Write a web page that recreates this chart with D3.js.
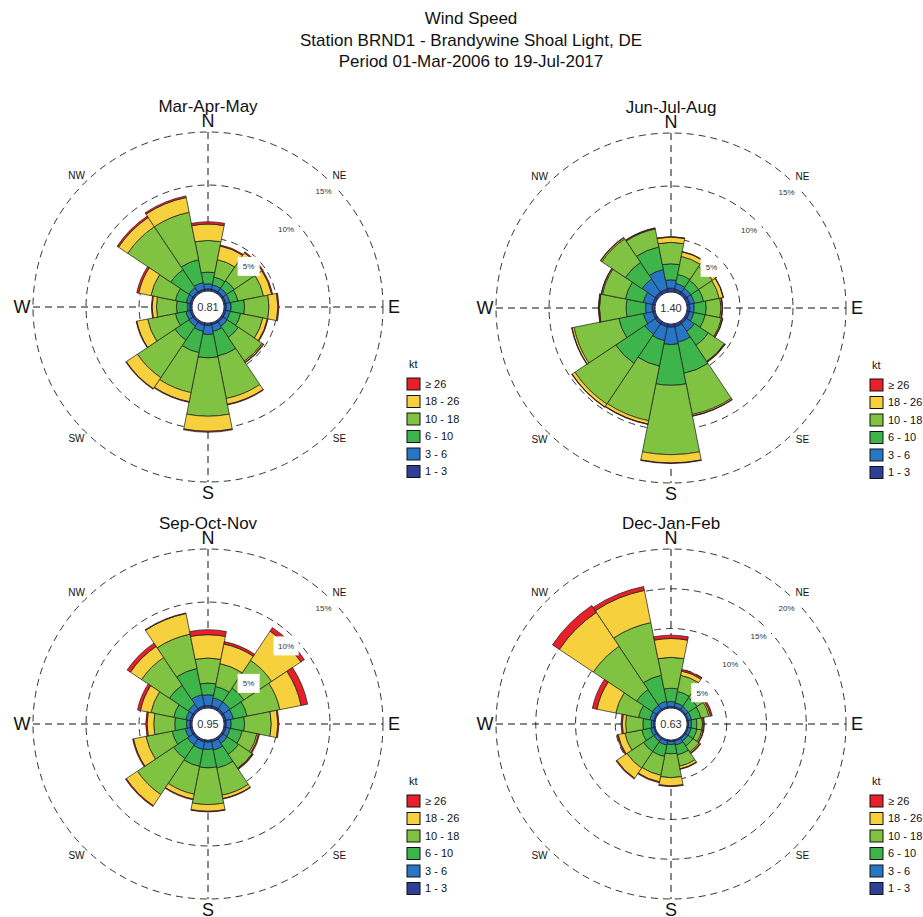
<!DOCTYPE html>
<html>
<head>
<meta charset="utf-8">
<script src="https://cdn.jsdelivr.net/npm/d3@7/dist/d3.min.js"></script>
<style>
  body { margin: 0; background: #fff; }
  text { font-family: "Liberation Sans", Arial, Helvetica, sans-serif; }
</style>
</head>
<body>
<svg id="chart" width="923" height="917"></svg>
<script>
// Wind direction sectors, clockwise from north
const directions = ["N","NNE","NE","ENE","E","ESE","SE","SSE","S","SSW","SW","WSW","W","WNW","NW","NNW"];
// Speed classes (kt), innermost first
const speedBins = ["1 - 3","3 - 6","6 - 10","10 - 18","18 - 26","\u2265 26"];
const binColors = ["#2e3f96","#2776c6","#3db54a","#80c241","#f7d13d","#e8202a"];

const seasons = ["Mar-Apr-May","Jun-Jul-Aug","Sep-Oct-Nov","Dec-Jan-Feb"];
const calmPct = ["0.81","1.40","0.95","0.63"];
const gridMax = [15, 15, 15, 20];   // outermost labelled ring (%)
const gridStep = 5;

// Frequency (%) per direction; columns follow speedBins
const marAprMay = [
  [0.22,0.47,1.10,2.99,1.54,0.22],
  [0.22,0.41,0.75,1.67,1.32,0.10],
  [0.22,0.41,0.85,2.36,0.82,0.10],
  [0.22,0.38,0.78,2.46,0.78,0.10],
  [0.22,0.47,1.26,2.30,0.84,0.10],
  [0.22,0.41,1.01,2.13,0.44,0.07],
  [0.22,0.47,1.26,2.70,0.13,0.06],
  [0.22,0.63,2.36,4.09,0.56,0.06],
  [0.25,0.85,2.20,5.50,1.42,0.09],
  [0.25,0.60,2.04,3.84,0.88,0.06],
  [0.22,0.47,1.57,4.25,1.26,0.06],
  [0.22,0.41,1.01,2.67,1.04,0.06],
  [0.22,0.22,1.04,1.88,0.41,0.07],
  [0.22,0.38,1.04,2.35,1.17,0.19],
  [0.22,0.47,2.05,4.87,1.04,0.16],
  [0.22,0.63,2.20,4.56,1.42,0.15]
];
const junJulAug = [
  [0.38,0.78,1.51,2.02,0.50,0.04],
  [0.31,0.54,0.88,1.73,0.44,0.04],
  [0.31,0.44,0.89,1.57,0.41,0.04],
  [0.31,0.44,0.89,1.50,0.38,0.04],
  [0.28,0.41,1.13,1.39,0.12,0.05],
  [0.28,0.41,1.10,1.57,0.10,0.04],
  [0.28,0.88,1.58,1.82,0.06,0.05],
  [0.31,1.48,2.99,3.96,0.13,0.04],
  [0.31,1.64,3.84,6.54,0.78,0.05],
  [0.31,1.33,2.45,5.25,0.31,0.05],
  [0.31,1.17,3.30,4.62,0.32,0.04],
  [0.28,0.88,2.36,4.31,0.19,0.04],
  [0.28,0.63,1.83,2.51,0.06,0.05],
  [0.28,0.88,1.73,2.20,0.10,0.04],
  [0.31,1.48,1.89,2.67,0.13,0.04],
  [0.31,1.89,2.17,1.73,0.06,0.05]
];
const sepOctNov = [
  [0.25,1.01,1.10,2.36,2.20,0.47],
  [0.25,0.76,1.10,2.20,1.88,0.23],
  [0.25,0.76,1.57,3.14,3.31,0.40],
  [0.25,0.69,1.32,3.15,2.04,0.63],
  [0.22,0.47,1.26,2.52,0.62,0.10],
  [0.22,0.41,1.16,1.42,0.15,0.10],
  [0.22,0.47,1.26,1.57,0.06,0.07],
  [0.22,0.79,1.73,2.61,0.31,0.06],
  [0.22,0.69,1.73,3.46,0.63,0.06],
  [0.22,0.72,1.64,2.67,0.47,0.07],
  [0.22,0.63,1.57,4.09,1.26,0.09],
  [0.22,0.47,1.26,2.52,1.19,0.09],
  [0.22,0.31,1.11,1.98,0.63,0.12],
  [0.22,0.41,1.16,2.20,1.01,0.28],
  [0.22,0.53,2.14,3.15,1.26,0.37],
  [0.25,1.07,2.52,3.30,1.98,0.06]
];
const decJanFeb = [
  [0.21,0.62,1.67,3.88,2.37,0.42],
  [0.21,0.50,1.46,2.08,0.54,0.21],
  [0.21,0.42,1.33,1.37,0.13,0.08],
  [0.21,0.42,1.20,1.05,0.20,0.21],
  [0.21,0.37,0.67,0.71,0.12,0.13],
  [0.21,0.37,0.75,0.63,0.17,0.08],
  [0.21,0.37,0.75,0.92,0.16,0.09],
  [0.21,0.50,1.25,1.46,0.33,0.08],
  [0.21,0.37,1.17,3.00,1.04,0.09],
  [0.21,0.50,1.46,2.41,0.84,0.12],
  [0.21,0.42,1.54,2.50,1.54,0.12],
  [0.21,0.42,1.12,2.17,0.87,0.13],
  [0.21,0.29,1.04,2.17,0.42,0.16],
  [0.21,0.50,1.46,2.91,2.42,0.58],
  [0.21,0.62,2.38,6.54,5.13,1.04],
  [0.21,0.71,3.33,6.75,4.13,0.50]
];
const seasonData = [marAprMay, junJulAug, sepOctNov, decJanFeb];

const titleLines = [
  "Wind Speed",
  "Station BRND1 - Brandywine Shoal Light, DE",
  "Period 01-Mar-2006 to 19-Jul-2017"
];
const titleBaselines = [24, 46, 67];

const svg = d3.select("#chart");
const R = 175;                      // outer ring radius in px
const centers = [[208, 307], [671, 308], [208, 724], [671, 724]];
const sector = 360 / directions.length;
const rad = deg => deg * Math.PI / 180;

// Figure title
svg.append("g").selectAll("text").data(titleLines).join("text")
  .attr("x", 471)
  .attr("y", (d, i) => titleBaselines[i])
  .attr("text-anchor", "middle")
  .attr("font-size", 17)
  .attr("fill", "#111")
  .text(d => d);

seasons.forEach((season, si) => {
  const [cx, cy] = centers[si];
  const maxPct = gridMax[si];
  const offset = maxPct * 0.1;       // empty hole in the centre, in % units
  const r = d3.scaleLinear().domain([0, maxPct + offset]).range([0, R]);
  const g = svg.append("g").attr("transform", `translate(${cx},${cy})`);

  // panel title
  g.append("text")
    .attr("x", 0).attr("y", -195)
    .attr("text-anchor", "middle")
    .attr("font-size", 17)
    .attr("fill", "#111")
    .text(season);

  // dashed rings
  const ringVals = d3.range(gridStep, maxPct + 0.01, gridStep);
  g.append("g").selectAll("circle").data(ringVals).join("circle")
    .attr("r", d => r(d + offset))
    .attr("fill", "none")
    .attr("stroke", "#333")
    .attr("stroke-width", 1)
    .attr("stroke-dasharray", "7,5");

  // dashed compass axes
  g.append("g").selectAll("line").data([[-R, 0, R, 0], [0, -R, 0, R]]).join("line")
    .attr("x1", d => d[0]).attr("y1", d => d[1])
    .attr("x2", d => d[2]).attr("y2", d => d[3])
    .attr("stroke", "#111")
    .attr("stroke-width", 1)
    .attr("stroke-dasharray", "7,5");

  // stacked bars
  const stack = d3.stack()
    .keys(d3.range(speedBins.length))
    .value((row, k) => row[k]);
  const layers = stack(seasonData[si]);
  const arc = d3.arc();
  layers.forEach((layer, k) => {
    g.append("g").selectAll("path").data(layer).join("path")
      .attr("d", (d, i) => arc({
        innerRadius: r(d[0] + offset),
        outerRadius: r(d[1] + offset),
        startAngle: rad(i * sector - sector / 2),
        endAngle: rad(i * sector + sector / 2)
      }))
      .attr("fill", binColors[k])
      .attr("stroke", "#1a1a1a")
      .attr("stroke-width", 0.7);
  });

  // ring labels on the NE diagonal, on white boxes
  const lab = g.append("g").selectAll("g").data(ringVals).join("g")
    .attr("transform", d => {
      const rr = r(d + offset) - 11.5;
      return `translate(${rr * Math.SQRT1_2},${-rr * Math.SQRT1_2})`;
    });
  lab.append("rect")
    .attr("x", d => (d >= 10 ? -12.5 : -11))
    .attr("y", -9.5)
    .attr("width", d => (d >= 10 ? 25 : 22))
    .attr("height", 19)
    .attr("fill", "#fff");
  lab.append("text")
    .attr("text-anchor", "middle")
    .attr("dy", "0.35em")
    .attr("font-size", 8)
    .attr("fill", "#333")
    .text(d => d + "%");

  // compass labels
  const compass = [
    { t: "N", a: 0, s: 18 }, { t: "E", a: 90, s: 18 },
    { t: "S", a: 180, s: 18 }, { t: "W", a: 270, s: 18 },
    { t: "NE", a: 45, s: 10 }, { t: "SE", a: 135, s: 10 },
    { t: "SW", a: 225, s: 10 }, { t: "NW", a: 315, s: 10 }
  ];
  g.append("g").selectAll("text").data(compass).join("text")
    .attr("x", d => 186 * Math.sin(rad(d.a)))
    .attr("y", d => -186 * Math.cos(rad(d.a)))
    .attr("text-anchor", "middle")
    .attr("dy", "0.36em")
    .attr("font-size", d => d.s)
    .attr("fill", "#111")
    .text(d => d.t);

  // calm percentage in the centre
  g.append("circle").attr("r", r(offset) - 0.6).attr("fill", "#fff");
  g.append("text")
    .attr("text-anchor", "middle")
    .attr("dy", "0.36em")
    .attr("font-size", 11)
    .attr("fill", "#333")
    .text(calmPct[si]);

  // legend
  const lg = svg.append("g").attr("transform", `translate(${cx + 199},${cy + 57})`);
  lg.append("text")
    .attr("x", 2).attr("y", 0)
    .attr("dy", "0.35em")
    .attr("font-size", 11)
    .attr("fill", "#111")
    .text("kt");
  const items = speedBins.map((b, k) => ({ label: b, color: binColors[k] })).reverse();
  const it = lg.selectAll("g.item").data(items).join("g")
    .attr("class", "item")
    .attr("transform", (d, i) => `translate(0,${14 + i * 17.5})`);
  it.append("rect")
    .attr("width", 13).attr("height", 12)
    .attr("fill", d => d.color)
    .attr("stroke", "#111")
    .attr("stroke-width", 1);
  it.append("text")
    .attr("x", 18).attr("y", 6)
    .attr("dy", "0.35em")
    .attr("font-size", 11)
    .attr("fill", "#111")
    .text(d => d.label);
});
</script>
</body>
</html>
